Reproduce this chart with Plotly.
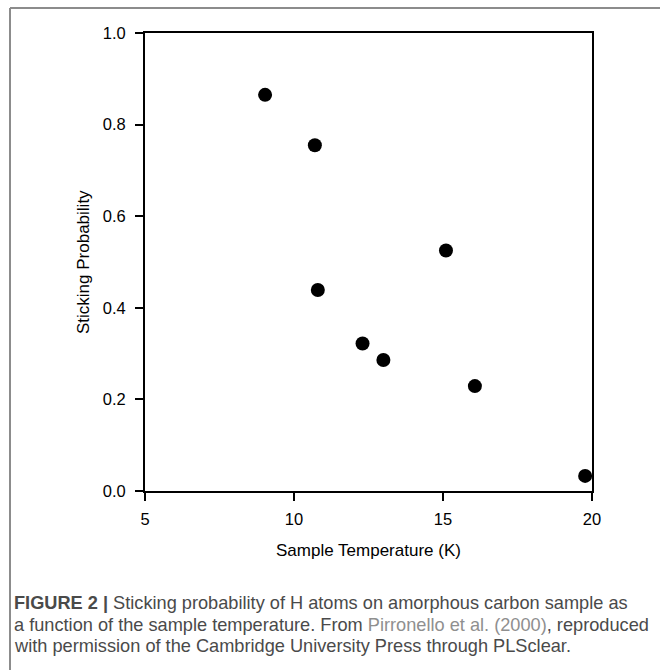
import plotly.graph_objects as go

temperature_k = [9.03, 10.70, 10.80, 12.30, 13.00, 15.10, 16.07, 19.77]
sticking_prob = [0.865, 0.755, 0.439, 0.322, 0.286, 0.525, 0.229, 0.033]

x_ticks = [5, 10, 15, 20]
y_ticks = [0.0, 0.2, 0.4, 0.6, 0.8, 1.0]

x_title = "Sample Temperature (K)"
y_title = "Sticking Probability"
caption_lines = [
    "<b>FIGURE 2 |</b> Sticking probability of H atoms on amorphous carbon sample as",
    "a function of the sample temperature. From <span style='color:#8f8f8f'>Pirronello et al. (2000)</span>, reproduced",
    "with permission of the Cambridge University Press through PLSclear.",
]

W, H = 660, 670
L, R, T, B = 145, 592, 33, 491
pw, ph = R - L, B - T

def px(xp):
    return (xp - L) / pw

def py(yp):
    return (B - yp) / ph

fig = go.Figure()
fig.add_trace(go.Scatter(
    x=temperature_k, y=sticking_prob, mode="markers",
    marker=dict(size=14, color="black"),
    cliponaxis=False, showlegend=False,
))

axis_font = dict(family="Liberation Sans, Arial, sans-serif", size=16.5, color="black")
fig.update_xaxes(
    range=[5, 20], tickvals=x_ticks, ticktext=[str(v) for v in x_ticks],
    showline=True, linewidth=2, linecolor="black", mirror=True,
    ticks="outside", ticklen=8, tickwidth=2, tickcolor="black",
    showgrid=False, zeroline=False, tickfont=axis_font, ticklabelstandoff=4,
)
fig.update_yaxes(
    range=[0, 1], tickvals=y_ticks, ticktext=[f"{v:.1f}" for v in y_ticks],
    showline=True, linewidth=2, linecolor="black", mirror=True,
    ticks="outside", ticklen=8, tickwidth=2, tickcolor="black",
    showgrid=False, zeroline=False, tickfont=axis_font, ticklabelstandoff=6,
)

annotations = [
    dict(text=x_title, xref="paper", yref="paper", x=0.5, y=py(550),
         xanchor="center", yanchor="middle", showarrow=False,
         font=dict(family="Liberation Sans, Arial, sans-serif", size=17, color="black")),
    dict(text=y_title, xref="paper", yref="paper", x=px(83), y=0.5, textangle=-90,
         xanchor="center", yanchor="middle", showarrow=False,
         font=dict(family="Liberation Sans, Arial, sans-serif", size=17, color="black")),
]
line_y = [603, 625, 646]
for txt, yy in zip(caption_lines, line_y):
    annotations.append(dict(
        text=txt, xref="paper", yref="paper", x=px(12), y=py(yy),
        xanchor="left", yanchor="middle", showarrow=False, align="left",
        font=dict(family="Liberation Sans, Arial, sans-serif", size=18.2, color="#4a4a4a"),
    ))

shapes = [
    dict(type="line", xref="paper", yref="paper", x0=px(10), x1=px(662), y0=py(8), y1=py(8),
         line=dict(color="#8c8c8c", width=2)),
    dict(type="line", xref="paper", yref="paper", x0=px(10), x1=px(10), y0=py(8), y1=py(672),
         line=dict(color="#8c8c8c", width=2)),
]

fig.update_layout(
    width=W, height=H,
    margin=dict(l=L, r=W - R, t=T, b=H - B, pad=0),
    paper_bgcolor="white", plot_bgcolor="white",
    annotations=annotations, shapes=shapes,
)

fig.write_html(
    "out.html",
    config={"displayModeBar": False},
    post_script="document.body.style.margin='0';document.body.style.overflow='hidden';",
)
